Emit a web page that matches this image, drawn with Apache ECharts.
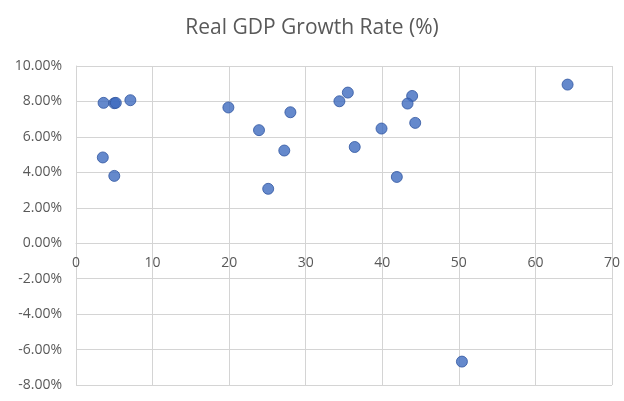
<!DOCTYPE html>
<html>
<head>
<meta charset="utf-8">
<script src="https://cdn.jsdelivr.net/npm/echarts@6/dist/echarts.min.js"></script>
<style>
  html, body { margin: 0; padding: 0; background: #fff; }
  #main { width: 624px; height: 401px; }
</style>
</head>
<body>
<div id="main"></div>
<script>
// x values (unlabelled in the source) and real GDP growth in percent
var xValues = [3.6, 5.0, 5.2, 7.1, 3.5, 5.0, 19.9, 23.9, 28.0, 27.2, 25.1,
               35.5, 34.4, 64.2, 43.9, 43.3, 44.3, 39.9, 36.4, 41.9, 50.4];
var growth  = [7.92, 7.90, 7.92, 8.07, 4.84, 3.80, 7.66, 6.38, 7.39, 5.23, 3.07,
               8.50, 8.01, 8.95, 8.31, 7.88, 6.79, 6.47, 5.43, 3.74, -6.68];

var points = xValues.map(function (x, i) { return [x, growth[i]]; });

var myChart = echarts.init(document.getElementById('main'));
var gridColor = '#d4d4d4';
var textColor = '#595959';
var font = '"Open Sans", "DejaVu Sans", sans-serif';

var option = {
    animation: false,
    title: {
        text: 'Real GDP Growth Rate (%)',
        left: 'center',
        top: 13,
        textStyle: { fontFamily: font, fontSize: 21, fontWeight: 'normal', color: textColor }
    },
    grid: { left: 76, right: 12, top: 66, bottom: 16 },
    xAxis: {
        type: 'value',
        min: 0, max: 70, interval: 10,
        // the labels sit under the 0% line, as in the original
        offset: -142,
        axisLine: { onZero: false, lineStyle: { color: gridColor, width: 1 } },
        axisTick: { show: false },
        axisLabel: { color: textColor, fontFamily: font, fontSize: 14, margin: 13 },
        splitLine: { show: true, lineStyle: { color: gridColor, width: 1 } }
    },
    yAxis: {
        type: 'value',
        min: -8, max: 10, interval: 2,
        axisLine: { show: true, lineStyle: { color: gridColor, width: 1 } },
        axisTick: { show: false },
        axisLabel: {
            color: textColor, fontFamily: font, fontSize: 14, margin: 14,
            formatter: function (v) { return v.toFixed(2) + '%'; }
        },
        splitLine: { show: true, lineStyle: { color: gridColor, width: 1 } }
    },
    series: [{
        type: 'scatter',
        data: points,
        symbolSize: 11,
        itemStyle: { color: '#3f6cbf', borderColor: '#2f55a0', borderWidth: 1 }
    }]
};
myChart.setOption(option);
</script>
</body>
</html>
